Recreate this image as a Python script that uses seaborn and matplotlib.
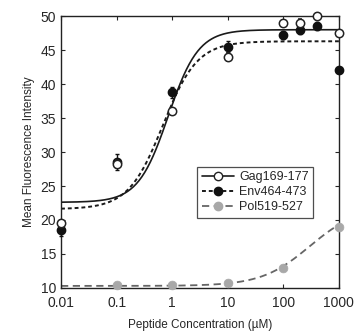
import matplotlib
matplotlib.use('Agg')
import matplotlib.pyplot as plt
import numpy as np
import pandas as pd
import seaborn as sns
from matplotlib.lines import Line2D

# Data
conc = [0.01, 0.1, 1, 10, 100, 200, 400, 1000]
gag = [19.5, 28.3, 36.0, 44.0, 49.0, 49.0, 50.0, 47.5]
gag_err = [0.5, 0.6, 0.5, 0.6, 0.5, 0.6, 0.5, 0.4]
env = [18.5, 28.5, 38.8, 45.5, 47.2, 48.0, 48.5, 42.0]
env_err = [0.8, 1.2, 0.8, 0.8, 0.6, 0.6, 0.6, 0.4]
pol_conc = [0.1, 1, 10, 100, 1000]
pol = [10.5, 10.5, 10.7, 13.0, 19.0]

# fitted logistic parameters (bottom, top, ec50, hill)
gag_fit = [22.6, 48.0, 0.85, 1.6]
env_fit = [21.6, 46.3, 0.68, 1.4]
pol_fit = [10.3, 22.0, 300, 1.0]


def logistic(x, p):
    return p[0] + (p[1] - p[0]) / (1 + (p[2] / x) ** p[3])


sns.set_style('ticks')
plt.rcParams['font.family'] = ['Liberation Sans', 'DejaVu Sans']

fig = plt.figure(figsize=(3.59, 3.36), dpi=100)
ax = fig.add_axes([0.17, 0.143, 0.774, 0.809])

xs = np.logspace(-2, 3, 300)
curves = pd.DataFrame({
    'x': np.concatenate([xs, xs, xs]),
    'y': np.concatenate([logistic(xs, gag_fit), logistic(xs, env_fit), logistic(xs, pol_fit)]),
    'peptide': ['Gag'] * len(xs) + ['Env'] * len(xs) + ['Pol'] * len(xs),
})

sns.lineplot(data=curves[curves.peptide == 'Gag'], x='x', y='y', ax=ax, color='#1a1a1a', lw=1.2)
sns.lineplot(data=curves[curves.peptide == 'Env'], x='x', y='y', ax=ax, color='#1a1a1a', lw=1.4,
             linestyle=(0, (2, 1.5)))
sns.lineplot(data=curves[curves.peptide == 'Pol'], x='x', y='y', ax=ax, color='#666666', lw=1.3,
             linestyle=(0, (4, 2.5)))

eb1 = ax.errorbar(conc, env, yerr=env_err, fmt='o', color='#111111', ms=6, capsize=1.5,
                  elinewidth=1, zorder=3, clip_on=False)
eb2 = ax.errorbar(conc, gag, yerr=gag_err, fmt='o', mfc='white', mec='#222222', color='#222222', ms=6,
                  mew=1.1, capsize=1.5, elinewidth=1, zorder=4, clip_on=False)
for eb in (eb1, eb2):
    for art in eb.get_children():
        art.set_clip_on(False)
sns.scatterplot(x=pol_conc, y=pol, ax=ax, color='#a8a8a8', s=40, edgecolor='#a8a8a8', zorder=5,
                clip_on=False)

ax.set_xscale('log')
ax.set_xlim(0.01, 1000)
ax.set_ylim(10, 50)
ax.set_xticks([0.01, 0.1, 1, 10, 100, 1000])
ax.set_xticklabels(['0.01', '0.1', '1', '10', '100', '1000'])
ax.set_yticks(range(10, 51, 5))
ax.minorticks_off()
ax.tick_params(direction='in', top=True, right=True, length=3, labelsize=10, width=0.8)
ax.tick_params(axis='x', pad=6)
for s in ax.spines.values():
    s.set_linewidth(1.0)
    s.set_color('#222222')
ax.set_xlabel('Peptide Concentration (\u00b5M)', fontsize=8.5, labelpad=6)
ax.set_ylabel('Mean Fluorescence Intensity', fontsize=8.5, labelpad=4)

handles = [
    Line2D([], [], color='#1a1a1a', lw=1.2, marker='o', mfc='white', mec='#222222', ms=6),
    Line2D([], [], color='#1a1a1a', lw=1.4, linestyle=(0, (2, 1.5)), marker='o', mfc='#111111',
           mec='#111111', ms=6),
    Line2D([], [], color='#666666', lw=1.3, linestyle=(0, (4, 2.5)), marker='o', mfc='#a8a8a8',
           mec='#a8a8a8', ms=6),
]
leg = ax.legend(handles, ['Gag169-177', 'Env464-473', 'Pol519-527'], loc='lower right',
                bbox_to_anchor=(0.93, 0.235), fontsize=9, frameon=True, fancybox=False,
                edgecolor='#222222', handlelength=2.6, handletextpad=0.4, borderpad=0.35,
                labelspacing=0.25)
leg.get_frame().set_linewidth(0.9)

fig.savefig('out.png', dpi=100)
